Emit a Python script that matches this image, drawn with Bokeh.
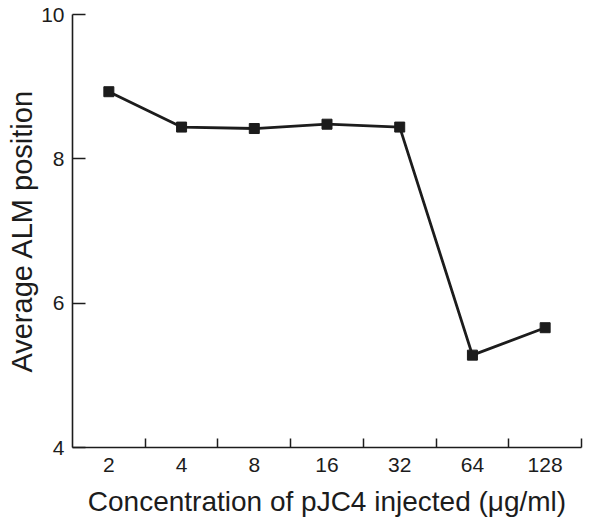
from bokeh.plotting import figure
from bokeh.models import FixedTicker, Range1d, ColumnDataSource
from bokeh.embed import file_html
from bokeh.resources import INLINE

concentrations = ["2", "4", "8", "16", "32", "64", "128"]
alm_position = [8.93, 8.44, 8.42, 8.48, 8.44, 5.28, 5.66]
y_ticks = [4, 6, 8, 10]

xpos = [i + 0.5 for i in range(len(concentrations))]
src = ColumnDataSource(dict(x=xpos, y=alm_position))

FONT = "Liberation Sans"
INK = "#1c1c1c"

p = figure(width=600, height=522, output_backend="svg", toolbar_location=None,
           x_range=Range1d(0, len(concentrations)), y_range=Range1d(4, 10),
           min_border_left=72, min_border_right=19, min_border_top=14, min_border_bottom=75)
p.outline_line_color = None
p.grid.grid_line_color = None
p.background_fill_color = "white"
p.border_fill_color = "white"

p.line("x", "y", source=src, line_color=INK, line_width=2.8)
p.scatter("x", "y", source=src, marker="square", size=10, color=INK)

xa = p.xaxis[0]
xa.ticker = FixedTicker(ticks=xpos, minor_ticks=list(range(1, len(concentrations) + 1)))
xa.major_label_overrides = {x: c for x, c in zip(xpos, concentrations)}
xa.minor_tick_in = 9
xa.minor_tick_out = 0
xa.minor_tick_line_width = 1.5
xa.minor_tick_line_color = INK
xa.axis_label = "Concentration of pJC4 injected (\u03bcg/ml)"

ya = p.yaxis[0]
ya.ticker = FixedTicker(ticks=y_ticks)
ya.major_tick_in = 13
ya.major_tick_out = 0
ya.minor_tick_line_color = None
ya.axis_label = "Average ALM position"

for ax in (xa, ya):
    ax.axis_line_color = INK
    ax.axis_line_width = 1.6
    ax.major_tick_line_width = 1.5
    ax.major_label_text_font = FONT
    ax.major_label_text_font_size = "21px"
    ax.major_label_text_color = INK
    ax.axis_label_text_font = FONT
    ax.axis_label_text_font_style = "normal"
    ax.axis_label_text_color = INK
xa.major_tick_line_color = None
ya.major_tick_line_color = INK
xa.axis_label_text_font_size = "28px"
ya.axis_label_text_font_size = "29px"
xa.major_label_standoff = 4
ya.major_label_standoff = 8
xa.axis_label_standoff = 11
ya.axis_label_standoff = 0

open("out.html", "w").write(file_html(p, INLINE))
